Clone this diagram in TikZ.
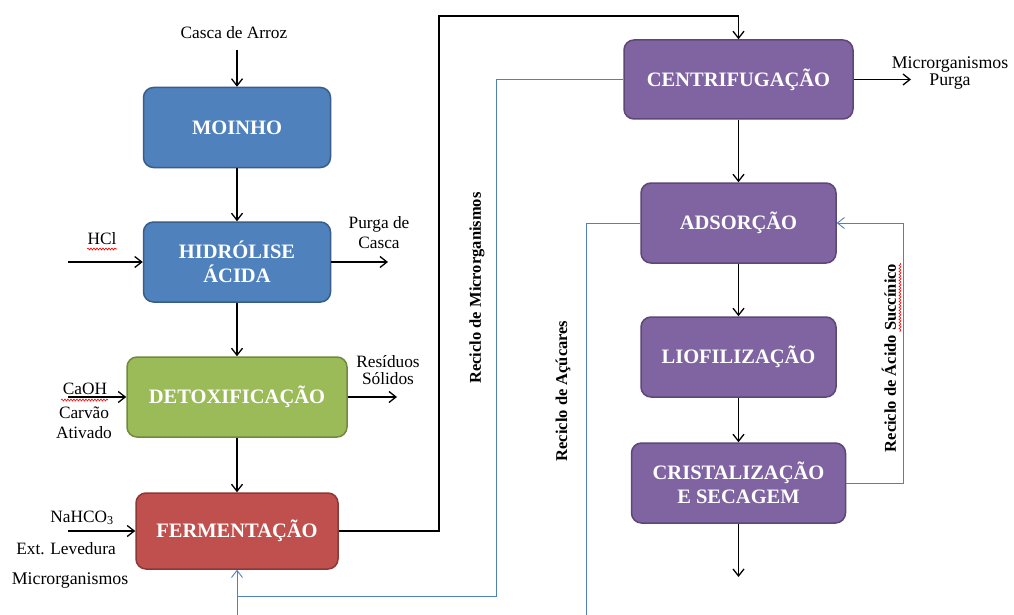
\documentclass[tikz,border=0pt]{standalone}
\usepackage{fontspec}
\setmainfont{Liberation Serif}
\usetikzlibrary{arrows.meta,decorations.pathmorphing}
\definecolor{boxblue}{HTML}{4F81BD}
\definecolor{boxblueline}{HTML}{385D8A}
\definecolor{boxgreen}{HTML}{9BBB59}
\definecolor{boxgreenline}{HTML}{71893F}
\definecolor{boxred}{HTML}{C0504D}
\definecolor{boxredline}{HTML}{8C3836}
\definecolor{boxpurple}{HTML}{8064A2}
\definecolor{boxpurpleline}{HTML}{5C4776}
\definecolor{recblue}{HTML}{4F81BD}
\begin{document}
\begin{tikzpicture}[x=1pt,y=-1pt,
>={Straight Barb[length=7pt,width=11pt]},
procbox/.style={rectangle,rounded corners=10pt,line width=1.5pt,align=center,text=white,
  font=\fontsize{20.5}{24}\selectfont\bfseries,minimum height=80pt,inner sep=2pt},
pblue/.style={procbox,fill=boxblue,draw=boxblueline},
pgreen/.style={procbox,fill=boxgreen,draw=boxgreenline},
pred/.style={procbox,fill=boxred,draw=boxredline},
ppurple/.style={procbox,fill=boxpurple,draw=boxpurpleline},
txt/.style={align=center,inner sep=0pt,font=\fontsize{17.3}{20}\selectfont},
rectxt/.style={rotate=90,inner sep=0pt,font=\fontsize{16.5}{20}\selectfont\bfseries},
flow/.style={black,line width=1.3pt},
recycle/.style={recblue,line width=0.9pt},
squiggle/.style={red,line width=0.6pt,decorate,decoration={snake,amplitude=1pt,segment length=3pt}}
]
\clip (0,0) rectangle (1014,615);
\fill[white] (0,0) rectangle (1014,615);
% etapas
\node (1)[pblue,minimum width=187pt] at (237,127.5){MOINHO};
\node (2)[pblue,minimum width=187pt] at (237,262){HIDRÓLISE\\ÁCIDA};
\node (3)[pgreen,minimum width=220pt] at (237,397){DETOXIFICAÇÃO};
\node (4)[pred,minimum width=202pt,minimum height=76pt] at (237,531){FERMENTAÇÃO};
\node (5)[ppurple,minimum width=229pt,minimum height=79pt] at (738.5,79.5){CENTRIFUGAÇÃO};
\node (6)[ppurple,minimum width=195pt] at (738.5,223){ADSORÇÃO};
\node (7)[ppurple,minimum width=195pt] at (738.5,357){LIOFILIZAÇÃO};
\node (8)[ppurple,minimum width=214pt] at (738.5,483){CRISTALIZAÇÃO\\E SECAGEM};
% correntes
\node (9)[txt] at (234,33){Casca de Arroz};
\node (10)[txt] at (102,239){HCl};
\node (11)[txt] at (379,233){Purga de\\Casca};
\node (12)[txt] at (85,389){CaOH};
\node (13)[txt] at (84,423){Carvão\\Ativado};
\node (14)[txt,font=\fontsize{17.3}{17}\selectfont] at (388,370){Resíduos\\Sólidos};
\node (15)[txt] at (82,518){NaHCO\textsubscript{3}};
\node (16)[txt] at (66,549){Ext. Levedura};
\node (17)[txt,font=\fontsize{17.8}{20}\selectfont] at (70,581){Microrganismos};
\node (18)[txt,font=\fontsize{17.8}{17}\selectfont] at (950,73){Microrganismos\\Purga};
\node (19)[rectxt] at (477,288){Reciclo de Microrganismos};
\node (20)[rectxt] at (563,391){Reciclo de Açúcares};
\node (21)[rectxt] at (889,358){Reciclo de Ácido Succínico};
% pontos livres
\coordinate (a) at (237,50);
\coordinate (b) at (68,262);
\coordinate (c) at (388,262);
\coordinate (d) at (68,397);
\coordinate (e) at (397,397);
\coordinate (f) at (68,531);
\coordinate (g) at (439,531);
\coordinate (h) at (439,16);
\coordinate (i) at (911,79.5);
\coordinate (j) at (738.5,577);
\coordinate (k) at (496,79.5);
\coordinate (l) at (496,596);
\coordinate (m) at (237,596);
\coordinate (n) at (586,223);
\coordinate (o) at (586,630);
\coordinate (p) at (237,630);
\coordinate (q) at (903,483);
\coordinate (r) at (903,223);
\draw[flow,->] (a) -- (1);
\draw[flow,->] (1) -- (2);
\draw[flow,->] (b) -- (2);
\draw[flow,->] (2) -- (c);
\draw[flow,->] (2) -- (3);
\draw[flow,->] (d) -- (3);
\draw[flow,->] (3) -- (e);
\draw[flow,->] (3) -- (4);
\draw[flow,->] (f) -- (4);
\draw[flow,->] (4) -- (g) -- (h) -| (5);
\draw[flow,->] (5) -- (i);
\draw[flow,->] (5) -- (6);
\draw[flow,->] (6) -- (7);
\draw[flow,->] (7) -- (8);
\draw[flow,->] (8) -- (j);
\draw[recycle,->] (5.west) -- (k) -- (l) -- (m) -- (4);
\draw[recycle] (6.west) -- (n) -- (o) -- (p) -- (m);
\draw[recycle,->] (8.east) -- (q) -- (r) -- (6.east);
% sublinhados do corretor
\draw[squiggle] (87,249) -- (117,249);
\draw[squiggle] (61,400) -- (108,400);
\draw[squiggle] (900,263) -- (900,332);
\end{tikzpicture}
\end{document}
